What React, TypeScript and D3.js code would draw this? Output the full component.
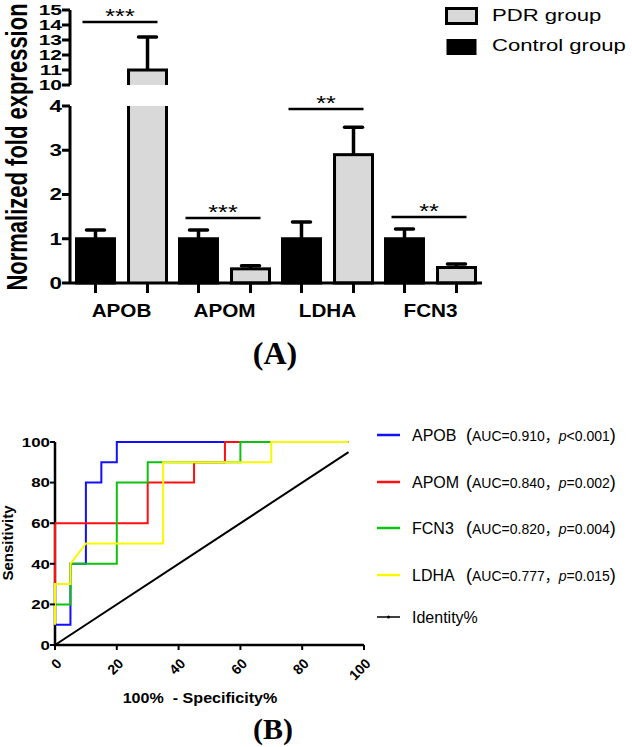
import React from 'react';
import * as d3 from 'd3';

// ---- panel A data ----
const genes = ['APOB', 'APOM', 'LDHA', 'FCN3'];
const groups = ['Control', 'PDR'];
const controlMean = [1.0, 1.0, 1.0, 1.0];
const controlErr = [0.2, 0.2, 0.38, 0.22];
const pdrMean = [11.0, 0.32, 2.9, 0.35];
const pdrErr = [2.2, 0.07, 0.62, 0.08];
const sigLabels = ['***', '***', '**', '**'];
const sigLevel = [14.2, 1.47, 3.93, 1.49];
const lowerTicks = [0, 1, 2, 3, 4];
const upperTicks = [10, 11, 12, 13, 14, 15];
const legendA = ['PDR group', 'Control group'];

// ---- panel B data (100% - specificity, sensitivity) ----
const rocNames = ['APOB', 'APOM', 'FCN3', 'LDHA'];
const rocColors = ['#1010ff', '#ff1010', '#10c010', '#f8f800'];
const rocAuc = ['AUC=0.910', 'AUC=0.840', 'AUC=0.820', 'AUC=0.777'];
const rocP = ['<0.001', '=0.002', '=0.004', '=0.015'];
const apobFpr = [0, 5, 5, 10, 10, 15, 15, 20, 20, 95];
const apobTpr = [10, 10, 40, 40, 80, 80, 90, 90, 100, 100];
const apomFpr = [0, 0, 30, 30, 45, 45, 55, 55, 95];
const apomTpr = [30, 60, 60, 80, 80, 90, 90, 100, 100];
const fcn3Fpr = [0, 5, 5, 20, 20, 30, 30, 60, 60, 95];
const fcn3Tpr = [20, 20, 40, 40, 80, 80, 90, 90, 100, 100];
const ldhaFpr = [0, 0, 5, 5, 10, 35, 35, 70, 70, 95];
const ldhaTpr = [10, 30, 30, 40, 50, 50, 90, 90, 100, 100];
const identityPts = [0, 95];
const rocTicks = [0, 20, 40, 60, 80, 100];

const SANS = '"Liberation Sans", Arial, sans-serif';
const SERIF = '"Liberation Serif", "Times New Roman", Times, serif';
const CJK = '"Noto Sans CJK SC", sans-serif';

const SText = ({ x, y, sx = 1, anchor = 'start', size, weight = 'normal', baseline, children, rotate = 0 }: any) => (
  <text
    transform={`translate(${x},${y}) scale(${sx},1)${rotate ? ` rotate(${rotate})` : ''}`}
    textAnchor={anchor}
    dominantBaseline={baseline}
    fontSize={size}
    fontWeight={weight}
    fontFamily={SANS}
  >
    {children}
  </text>
);

export default function App() {
  // panel A scales
  const xGene = d3.scaleBand().domain(genes).range([70, 482]);
  const xGroup = d3.scaleBand().domain(groups).range([0, xGene.bandwidth()]).paddingInner(0.27).paddingOuter(0.125);
  const yLow = d3.scaleLinear().domain([0, 4]).range([283, 106]);
  const yHigh = d3.scaleLinear().domain([10, 15]).range([85, 10]);
  const yVal = (v: number) => (v <= 4 ? yLow(v) : yHigh(Math.max(v, 10)));
  const bw = xGroup.bandwidth();

  const bars: any[] = [];
  genes.forEach((g, i) => {
    [controlMean[i], pdrMean[i]].forEach((m, j) => {
      const err = j === 0 ? controlErr[i] : pdrErr[i];
      const x0 = xGene(g)! + xGroup(groups[j])!;
      bars.push({ g, j, m, err, x0, x1: x0 + bw, cx: x0 + bw / 2 });
    });
  });

  // panel B scales
  const xRoc = d3.scaleLinear().domain([0, 100]).range([55, 364]);
  const yRoc = d3.scaleLinear().domain([0, 100]).range([645, 442]);
  const rocLine = d3.line<[number, number]>().x(d => xRoc(d[0])).y(d => yRoc(d[1]));
  const rocData = [
    d3.zip(apobFpr, apobTpr),
    d3.zip(apomFpr, apomTpr),
    d3.zip(fcn3Fpr, fcn3Tpr),
    d3.zip(ldhaFpr, ldhaTpr),
  ] as [number, number][][];
  const legendRows = d3.scaleOrdinal<string, number>().domain([...rocNames, 'Identity%']).range([435, 482, 528, 575, 617]);

  return (
    <svg width={632} height={747} style={{ position: 'absolute', left: 0, top: 0, background: '#fff' }}>
      {/* ===== Panel A ===== */}
      {bars.map((b, k) => {
        const fill = b.j === 0 ? '#000' : '#d9d9d9';
        if (b.m <= 4) {
          return (
            <rect key={k} x={b.x0} y={yVal(b.m)} width={bw} height={yLow(0) - yVal(b.m)}
              fill={fill} stroke="#000" strokeWidth={3} />
          );
        }
        return (
          <g key={k}>
            <rect x={b.x0} y={yLow(4)} width={bw} height={yLow(0) - yLow(4)} fill={fill} />
            <rect x={b.x0} y={yVal(b.m)} width={bw} height={yHigh(10) - yVal(b.m)} fill={fill} />
            <path d={`M${b.x0},${yLow(0)}V${yLow(4)}M${b.x1},${yLow(4)}V${yLow(0)}`} stroke="#000" strokeWidth={3} fill="none" />
            <path d={`M${b.x0},${yHigh(10)}V${yVal(b.m)}H${b.x1}V${yHigh(10)}`} stroke="#000" strokeWidth={3} fill="none" />
          </g>
        );
      })}
      {bars.map((b, k) => (
        <g key={'e' + k} stroke="#000" strokeWidth={3.5}>
          <line x1={b.cx} x2={b.cx} y1={yVal(b.m)} y2={yVal(b.m + b.err)} />
          <line x1={b.cx - 9} x2={b.cx + 9} y1={yVal(b.m + b.err)} y2={yVal(b.m + b.err)} strokeLinecap="round" />
        </g>
      ))}
      {/* significance */}
      {genes.map((g, i) => {
        const xa = xGene(g)! + xGroup('Control')! + 6;
        const xb = xGene(g)! + xGroup('PDR')! + bw - 9;
        const yy = yVal(sigLevel[i]);
        return (
          <g key={'s' + g}>
            <line x1={xa} x2={xb} y1={yy} y2={yy} stroke="#000" strokeWidth={2.5} />
            <SText x={(xa + xb) / 2} y={yy + 1} anchor="middle" size={21} sx={1.2}>{sigLabels[i]}</SText>
          </g>
        );
      })}
      {/* axes A */}
      <path d={`M70,${yLow(0)}V${yLow(4)}M70,${yHigh(10)}V${yHigh(15)}M70,${yLow(0)}H482`} stroke="#000" strokeWidth={3} fill="none" />
      {[...lowerTicks.map(t => ({ t, y: yLow(t), s: 16 })), ...upperTicks.map(t => ({ t, y: yHigh(t), s: 15 }))].map(({ t, y, s }) => (
        <g key={'yt' + t}>
          <line x1={62} x2={70} y1={y} y2={y} stroke="#000" strokeWidth={3} />
          <SText x={62} y={y} anchor="end" baseline="central" size={s} weight="bold" sx={1.4}>{t}</SText>
        </g>
      ))}
      {bars.map((b, k) => (
        <line key={'xt' + k} x1={b.cx} x2={b.cx} y1={yLow(0)} y2={yLow(0) + 10} stroke="#000" strokeWidth={3} />
      ))}
      {genes.map(g => (
        <SText key={'xl' + g} x={xGene(g)! + xGene.bandwidth() / 2} y={317} anchor="middle" size={18} weight="bold" sx={1.15}>{g}</SText>
      ))}
      <SText x={27} y={147} anchor="middle" size={22} weight="bold" sx={1.35} rotate={-90}>Normalized fold expression</SText>
      {/* legend A */}
      {legendA.map((l, i) => (
        <g key={l}>
          <rect x={446.5} y={i === 0 ? 8.5 : 39} width={30} height={i === 0 ? 15 : 16}
            fill={i === 0 ? '#d9d9d9' : '#000'} stroke="#000" strokeWidth={i === 0 ? 3 : 0} />
          <SText x={492} y={i === 0 ? 21 : 51} size={17} sx={1.3}>{l}</SText>
        </g>
      ))}
      <text x={275} y={364} textAnchor="middle" fontFamily={SERIF} fontWeight="bold" fontSize={32}>(A)</text>

      {/* ===== Panel B ===== */}
      <line x1={xRoc(identityPts[0])} y1={yRoc(identityPts[0])} x2={xRoc(identityPts[1])} y2={yRoc(identityPts[1])} stroke="#000" strokeWidth={2} />
      <path d={`M${xRoc(0)},${yRoc(100)}V${yRoc(0)}H${xRoc(100)}`} stroke="#000" strokeWidth={2.5} fill="none" />
      {rocData.map((d, i) => (
        <path key={'roc' + i} d={rocLine(d)!} stroke={rocColors[i]} strokeWidth={2} fill="none" />
      ))}
      {rocTicks.map(t => (
        <g key={'ry' + t}>
          <line x1={xRoc(0) - 5} x2={xRoc(0)} y1={yRoc(t)} y2={yRoc(t)} stroke="#000" strokeWidth={2} />
          <SText x={xRoc(0) - 5} y={yRoc(t)} anchor="end" baseline="central" size={13} weight="bold" sx={1.3}>{t}</SText>
          <line x1={xRoc(t)} x2={xRoc(t)} y1={yRoc(0)} y2={yRoc(0) + 5} stroke="#000" strokeWidth={2} />
          <text transform={`translate(${xRoc(t) + 4},${yRoc(0) + 16}) rotate(-45)`} textAnchor="end" dominantBaseline="central"
            fontFamily={SANS} fontWeight="bold" fontSize={14}>{t}</text>
        </g>
      ))}
      <SText x={13} y={543} anchor="middle" size={15} weight="bold" rotate={-90}>Sensitivity</SText>
      <SText x={200} y={703} anchor="middle" size={14} weight="bold" sx={1.15}>{'100%\u00a0\u00a0- Specificity%'}</SText>
      <text x={273} y={739} textAnchor="middle" fontFamily={SERIF} fontWeight="bold" fontSize={30}>(B)</text>
      {/* legend B */}
      {rocNames.map((n, i) => {
        const cy = legendRows(n);
        return (
          <g key={'lg' + n}>
            <line x1={377} x2={400} y1={cy} y2={cy} stroke={rocColors[i]} strokeWidth={2.5} />
            <text x={412} y={cy + 6} fontFamily={SANS} fontSize={16}>{n}</text>
            <text x={466} y={cy + 6} fontFamily={SANS} fontSize={14}>
              <tspan fontSize={18}>(</tspan>
              <tspan>{rocAuc[i]}</tspan>
              <tspan fontFamily={CJK}>，</tspan>
              <tspan fontStyle="italic">p</tspan>
              <tspan>{rocP[i]}</tspan>
              <tspan fontSize={18}>)</tspan>
            </text>
          </g>
        );
      })}
      <line x1={377} x2={400} y1={legendRows('Identity%')} y2={legendRows('Identity%')} stroke="#000" strokeWidth={1.5} />
      <circle cx={388.5} cy={legendRows('Identity%')} r={1.5} fill="#000" />
      <text x={412} y={legendRows('Identity%') + 6} fontFamily={SANS} fontSize={16}>Identity%</text>
    </svg>
  );
}
